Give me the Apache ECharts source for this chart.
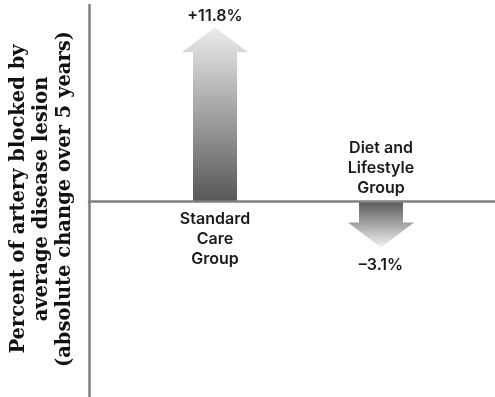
<!DOCTYPE html>
<html>
<head>
<meta charset="utf-8">
<script src="https://cdn.jsdelivr.net/npm/echarts@6/dist/echarts.min.js"></script>
<style>
  html, body { margin: 0; padding: 0; background: #fff; }
  #chart { width: 495px; height: 397px; }
</style>
</head>
<body>
<div id="chart"></div>
<script>
// data
const groups = ['Standard\nCare\nGroup', 'Diet and\nLifestyle\nGroup'];
const changes = [11.8, -3.1];
const valueLabels = ['+11.8%', '\u20133.1%'];
const yTitle = 'Percent of artery blocked by\naverage disease lesion\n(absolute change over 5 years)';

const Y_MIN = -13.2, Y_MAX = 13.3;
const textFont = 'Inter, "Noto Sans", sans-serif';

const chart = echarts.init(document.getElementById('chart'));

function renderArrow(params, api) {
  const idx = api.value(0);
  const val = api.value(1);
  const base = api.coord([idx, 0]);
  const tip = api.coord([idx, val]);
  const up = val > 0;
  const dir = up ? 1 : -1; // head base is below the tip when pointing up
  const bodyHalf = 22, headHalf = 33, headLen = 25;
  const hy = tip[1] + dir * headLen;
  const cx = base[0];
  const pts = [
    [cx - bodyHalf, base[1]],
    [cx - bodyHalf, hy],
    [cx - headHalf, hy],
    [cx, tip[1]],
    [cx + headHalf, hy],
    [cx + bodyHalf, hy],
    [cx + bodyHalf, base[1]]
  ];
  const fill = new echarts.graphic.LinearGradient(0, 0, 0, 1, up
    ? [{ offset: 0, color: '#ececec' }, { offset: 1, color: '#575757' }]
    : [{ offset: 0, color: '#5a5a5a' }, { offset: 1, color: '#f2f2f2' }]);
  const i = params.dataIndex;
  return {
    type: 'group',
    children: [
      { type: 'polygon', shape: { points: pts }, style: { fill: fill } },
      {
        type: 'text',
        x: cx,
        y: up ? tip[1] - 11 : tip[1] + 18,
        style: {
          text: valueLabels[i], fill: '#1a1a1a', font: '600 16px ' + textFont,
          align: 'center', verticalAlign: 'middle'
        }
      },
      {
        type: 'text',
        x: cx,
        y: up ? base[1] + 7 : base[1] - 4,
        style: {
          text: groups[i], fill: '#1a1a1a', font: '600 16px ' + textFont,
          align: 'center', verticalAlign: up ? 'top' : 'bottom', lineHeight: 20
        }
      }
    ]
  };
}

const option = {
  animation: false,
  grid: [
    { left: 132, right: 31, top: 5, bottom: 0 },
    { left: 89, right: 0, top: 5, bottom: 0 }
  ],
  xAxis: [
    { type: 'category', gridIndex: 0, data: groups, show: false },
    {
      type: 'value', gridIndex: 1, min: 0, max: 1, z: 5,
      axisLine: { show: true, onZero: true, lineStyle: { color: '#808080', width: 2.5 } },
      axisTick: { show: false }, axisLabel: { show: false }, splitLine: { show: false }
    }
  ],
  yAxis: [
    { type: 'value', gridIndex: 0, min: Y_MIN, max: Y_MAX, show: false },
    {
      type: 'value', gridIndex: 1, min: Y_MIN, max: Y_MAX, z: 5,
      axisLine: { show: true, onZero: false, lineStyle: { color: '#808080', width: 2.5 } },
      axisTick: { show: false }, axisLabel: { show: false }, splitLine: { show: false }
    }
  ],
  graphic: [{
    type: 'text',
    x: 42,
    y: 199,
    rotation: Math.PI / 2,
    style: {
      text: yTitle, fill: '#111',
      font: 'bold 19.5px "DejaVu Serif", "Liberation Serif", serif',
      align: 'center', verticalAlign: 'middle', lineHeight: 23
    }
  }],
  series: [{
    type: 'custom',
    xAxisIndex: 0,
    yAxisIndex: 0,
    renderItem: renderArrow,
    data: changes.map((v, i) => [i, v])
  }]
};

chart.setOption(option);
</script>
</body>
</html>
